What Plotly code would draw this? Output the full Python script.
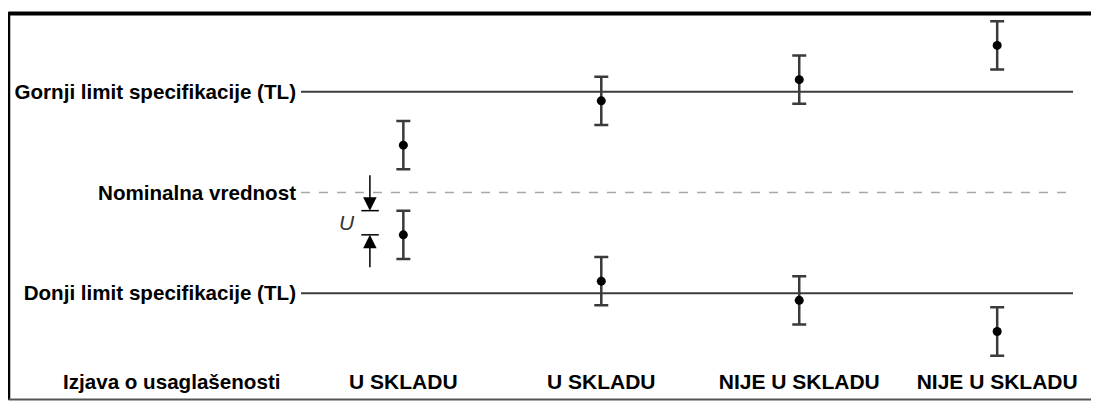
import plotly.graph_objects as go

# ---- data ----
case_index = [0, 1, 2, 3]
statements = ["U SKLADU", "U SKLADU", "NIJE U SKLADU", "NIJE U SKLADU"]
upper_results = [0.47, 0.91, 1.12, 1.46]
lower_results = [-0.42, -0.88, -1.07, -1.38]
expanded_uncertainty = [0.24, 0.24, 0.24, 0.24]
upper_limit = 1.0
nominal = 0.0
lower_limit = -1.0
level_values = [upper_limit, nominal, lower_limit]
level_labels = ["Gornji limit specifikacije (TL)", "Nominalna vrednost", "Donji limit specifikacije (TL)"]
row_title = "Izjava o usaglašenosti"

FONT = "Liberation Sans, Arial, sans-serif"
OFF = 8  # page body margin
W, H = 1099 - OFF, 402 - OFF
ML, MR, MT, MB = 301 - OFF, 26, 15 - OFF, 37
PW, PH = W - ML - MR, H - MT - MB

def px_x(p):
    return (p - OFF - ML) / PW

def px_y(p):
    return (H - MB - (p - OFF)) / PH

fig = go.Figure()

for vals in (upper_results, lower_results):
    fig.add_trace(go.Scatter(
        x=case_index, y=vals, mode="markers",
        marker=dict(color="black", size=9),
        error_y=dict(type="data", array=expanded_uncertainty, symmetric=True,
                     color="#3a3a3a", thickness=2.5, width=7),
        showlegend=False, hoverinfo="skip",
    ))

# limit lines
for v, dash, col, w in ((upper_limit, "solid", "#3c3c3c", 2),
                        (lower_limit, "solid", "#3c3c3c", 2),
                        (nominal, "dash", "#a8a8a8", 1.5)):
    fig.add_shape(type="line", xref="paper", yref="y", x0=0, x1=1, y0=v, y1=v,
                  line=dict(color=col, width=w, dash=dash))

# U indicator (on the first lower result)
u_top = lower_results[0] + expanded_uncertainty[0]
u_bot = lower_results[0]
xa = -0.169
for yv in (u_top, u_bot):
    fig.add_shape(type="line", xref="x", yref="y", x0=-0.212, x1=-0.124, y0=yv, y1=yv,
                  line=dict(color="black", width=1.5))
fig.add_annotation(x=xa, y=u_top, xref="x", yref="y", text="", showarrow=True,
                   ax=0, ay=-37, arrowhead=2, arrowsize=1.8, arrowwidth=1.5,
                   arrowcolor="black", standoff=0)
fig.add_annotation(x=xa, y=u_bot, xref="x", yref="y", text="", showarrow=True,
                   ax=0, ay=34, arrowhead=2, arrowsize=1.8, arrowwidth=1.5,
                   arrowcolor="black", standoff=0)
fig.add_annotation(x=-0.285, y=(u_top + u_bot) / 2, xref="x", yref="y", text="<i>U</i>",
                   showarrow=False, font=dict(family=FONT, size=21, color="#333"))

# row title
fig.add_annotation(x=px_x(171), y=px_y(381), xref="paper", yref="paper", text="<b>" + row_title + "</b>",
                   showarrow=False, xanchor="center", yanchor="middle",
                   font=dict(family=FONT, size=20.6, color="black"))

# frame
fig.add_shape(type="line", xref="paper", yref="paper", x0=px_x(8.5), x1=1.1, y0=px_y(13.5), y1=px_y(13.5),
              line=dict(color="black", width=4))
fig.add_shape(type="line", xref="paper", yref="paper", x0=px_x(8.5), x1=px_x(8.5), y0=px_y(12), y1=px_y(400),
              line=dict(color="black", width=3.5))
fig.add_shape(type="line", xref="paper", yref="paper", x0=px_x(8.5), x1=1.1, y0=px_y(399.5), y1=px_y(399.5),
              line=dict(color="#555", width=2))

fig.update_layout(
    width=W, height=H,
    margin=dict(l=ML, r=MR, t=MT, b=MB, pad=0),
    paper_bgcolor="white", plot_bgcolor="white",
    font=dict(family=FONT, color="black"),
    xaxis=dict(range=[-0.517, 3.383], tickvals=case_index,
               ticktext=["<b>" + s + "</b>" for s in statements],
               showgrid=False, zeroline=False, showline=False, ticks="",
               ticklabelstandoff=2,
               tickfont=dict(family=FONT, size=21, color="black")),
    yaxis=dict(range=[-1.712, 1.762], tickvals=level_values,
               ticktext=["<b>" + s + "</b>" for s in level_labels],
               showgrid=False, zeroline=False, showline=False, ticks="",
               ticklabelstandoff=4,
               tickfont=dict(family=FONT, size=20.6, color="black")),
)

fig.write_html("out.html")
